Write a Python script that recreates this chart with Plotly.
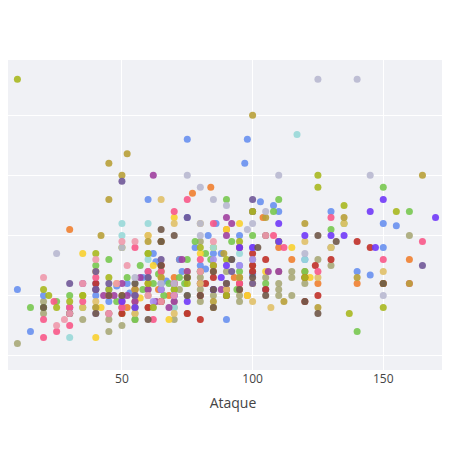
import plotly.graph_objects as go

# Ataque / Defensa por tipo
tipos = ["Normal", "Fire", "Water", "Grass", "Electric", "Ice", "Fighting", "Poison",
         "Ground", "Flying", "Psychic", "Bug", "Rock", "Ghost", "Dragon", "Dark", "Steel", "Fairy"]
colores = ["#A8A878", "#F08030", "#6890F0", "#78C850", "#F8D030", "#98D8D8", "#C03028", "#A040A0",
           "#E0C068", "#A890F0", "#F85888", "#A8B820", "#B8A038", "#705898", "#7038F8", "#705848",
           "#B8B8D0", "#EE99AC"]

ataque = {
    "Normal": [5, 10, 20, 20, 20, 30, 35, 40, 45, 50, 55, 55, 60, 60, 65, 70, 70, 70, 75, 75, 80, 80, 85, 85,
               90, 95, 95, 100, 100, 105, 110, 110, 110, 115, 115, 120, 125, 130, 60, 65, 75, 80, 90, 160,
               45, 50, 55, 60, 65, 70, 72, 80, 85, 90, 95, 100, 105, 110, 115, 120],
    "Fire": [30, 50, 55, 60, 65, 68, 72, 77, 84, 90, 95, 104, 110, 115, 120, 125, 130, 140, 160, 85, 80,
             52, 64, 70, 93, 98],
    "Water": [10, 15, 20, 40, 40, 45, 48, 52, 55, 60, 62, 65, 65, 70, 72, 75, 78, 80, 83, 85, 86, 90, 92,
              95, 97, 98, 103, 105, 108, 110, 120, 130, 140, 145, 150, 150, 155, 75, 95, 90, 60,
              45, 50, 53, 58, 63, 67, 73, 82, 88, 100],
    "Grass": [15, 20, 25, 30, 40, 40, 45, 45, 50, 55, 58, 60, 62, 65, 68, 70, 72, 75, 78, 80, 82, 85,
              90, 92, 95, 100, 100, 105, 108, 110, 120, 130, 135, 140, 150, 160, 181,
              35, 48, 52, 57, 64, 66, 74, 84, 94],
    "Electric": [35, 40, 40, 45, 48, 50, 55, 60, 62, 65, 70, 75, 80, 85, 90, 95, 98, 100, 105, 115, 122,
                 42, 57, 68],
    "Ice": [30, 50, 50, 60, 60, 62, 65, 70, 80, 85, 95, 117, 120, 130, 55, 75],
    "Fighting": [40, 50, 55, 60, 65, 70, 75, 80, 80, 82, 85, 90, 95, 100, 100, 105, 105, 110, 120, 120,
                 124, 125, 130, 140, 145, 150, 90, 95, 100, 65],
    "Poison": [30, 35, 40, 43, 45, 50, 52, 55, 60, 63, 65, 68, 70, 75, 80, 90, 90, 92, 100, 106, 110, 62,
               47, 57, 73, 88],
    "Ground": [35, 40, 55, 60, 65, 70, 75, 80, 85, 90, 95, 100, 107, 110, 120, 125, 130, 135, 150, 70, 80],
    "Flying": [30, 40, 50, 55, 62, 70, 80, 85, 90, 95, 100, 100, 65],
    "Psychic": [20, 20, 24, 25, 30, 35, 40, 45, 50, 55, 60, 62, 65, 70, 75, 80, 85, 95, 108, 112, 125,
                130, 150, 150, 160, 165, 30, 45, 50, 55, 65, 70, 85],
    "Bug": [10, 20, 22, 25, 30, 35, 40, 45, 50, 55, 60, 62, 65, 70, 75, 80, 85, 90, 95, 100, 110, 120,
            125, 135, 137, 150, 150, 155, 125, 181, 30, 35, 45, 60, 75, 90],
    "Rock": [40, 42, 45, 45, 50, 52, 55, 60, 65, 80, 89, 100, 105, 112, 120, 125, 135, 140, 160, 165, 182,
             85, 95],
    "Ghost": [30, 30, 40, 45, 50, 55, 65, 75, 85, 92, 100, 100, 165, 40, 60],
    "Dragon": [50, 55, 70, 75, 85, 88, 90, 95, 100, 110, 110, 120, 130, 135, 145, 147, 150, 170, 180],
    "Dark": [20, 40, 45, 50, 55, 60, 65, 65, 70, 75, 80, 85, 85, 90, 92, 100, 102, 105, 105, 120, 125,
             125, 132, 150, 65, 75, 85, 95],
    "Steel": [25, 50, 55, 65, 70, 75, 80, 80, 85, 90, 98, 100, 105, 110, 120, 125, 140, 145, 150, 80],
    "Fairy": [20, 25, 28, 30, 35, 40, 45, 50, 55, 60, 65, 70, 80, 85, 105, 48, 52],
}
defensa = {
    "Normal": [5, 10, 35, 40, 45, 35, 30, 40, 20, 25, 30, 35, 40, 50, 60, 30, 45, 60, 35, 50, 55, 65, 75,
               50, 60, 50, 65, 75, 80, 65, 70, 60, 50, 50, 70, 65, 80, 75, 55, 45, 65, 95, 70, 100,
               30, 45, 55, 65, 45, 40, 55, 45, 40, 60, 45, 70, 55, 55, 65, 60],
    "Fire": [105, 40, 45, 60, 75, 50, 80, 135, 140, 105, 55, 115, 90, 80, 70, 60, 90, 60, 80, 70, 60,
             40, 55, 65, 65, 50],
    "Water": [55, 20, 50, 50, 60, 55, 58, 60, 40, 130, 85, 60, 95, 50, 80, 180, 90, 75, 100, 85, 110,
              30, 80, 100, 160, 180, 128, 55, 125, 120, 80, 120, 70, 67, 90, 110, 108, 115, 75, 50, 70,
              45, 48, 52, 65, 78, 62, 70, 72, 85, 68],
    "Grass": [40, 40, 45, 50, 55, 75, 50, 80, 35, 30, 55, 85, 60, 70, 60, 55, 65, 80, 95, 70, 85, 90,
              130, 95, 70, 100, 120, 60, 120, 130, 70, 105, 110, 20, 140, 120, 130,
              40, 45, 65, 75, 68, 50, 60, 80, 55],
    "Electric": [85, 15, 70, 35, 60, 50, 55, 100, 75, 65, 115, 70, 85, 90, 105, 110, 50, 60, 70, 90, 65,
                 40, 48, 30],
    "Ice": [15, 100, 110, 110, 80, 40, 55, 40, 70, 90, 85, 184, 80, 90, 60, 50],
    "Fighting": [60, 35, 50, 40, 45, 60, 35, 30, 50, 60, 65, 55, 90, 85, 75, 80, 55, 95, 45, 65, 75, 50,
                 80, 95, 90, 60, 50, 60, 70, 75],
    "Poison": [40, 60, 55, 50, 35, 60, 50, 45, 55, 45, 55, 40, 45, 70, 60, 100, 115, 110, 120, 70, 70, 150,
               50, 65, 80, 55],
    "Ground": [40, 45, 35, 100, 130, 110, 65, 110, 40, 55, 65, 45, 40, 95, 95, 65, 90, 110, 70, 35, 60],
    "Flying": [40, 35, 40, 50, 45, 60, 70, 80, 60, 75, 80, 90, 55],
    "Psychic": [30, 15, 45, 20, 25, 45, 65, 50, 45, 55, 70, 30, 95, 120, 130, 80, 110, 60, 100, 90, 70,
                115, 60, 80, 60, 95, 40, 50, 40, 90, 70, 60, 75],
    "Bug": [230, 55, 50, 40, 45, 50, 85, 65, 90, 40, 60, 40, 95, 55, 60, 90, 75, 80, 95, 120, 95, 65,
            150, 125, 35, 40, 60, 120, 140, 131, 35, 50, 55, 85, 65, 50],
    "Rock": [40, 100, 160, 130, 150, 168, 55, 95, 65, 70, 85, 200, 115, 45, 110, 40, 115, 65, 60, 150, 160,
             45, 65],
    "Ghost": [35, 60, 55, 60, 145, 50, 80, 115, 55, 70, 60, 130, 75, 70, 65],
    "Dragon": [45, 40, 50, 45, 55, 65, 75, 90, 90, 110, 95, 100, 100, 100, 120, 90, 130, 115, 100],
    "Dark": [40, 35, 50, 50, 60, 30, 105, 95, 100, 50, 50, 55, 40, 60, 80, 65, 90, 50, 100, 45, 35, 100,
             95, 60, 75, 65, 70, 55],
    "Steel": [85, 90, 65, 60, 60, 150, 140, 100, 130, 125, 105, 110, 120, 150, 85, 230, 230, 150, 50, 110],
    "Fairy": [65, 25, 30, 35, 60, 80, 35, 95, 95, 50, 45, 50, 70, 95, 100, 60, 75],
}

fig = go.Figure()
for t, c in zip(tipos, colores):
    fig.add_trace(go.Scatter(x=ataque[t], y=defensa[t], mode="markers", name=t,
                             marker=dict(color=c, size=7, opacity=0.9)))

fig.update_layout(
    width=450, height=450,
    template="plotly_white",
    plot_bgcolor="#f0f1f5",
    showlegend=False,
    margin=dict(l=0, r=0, t=52, b=88),
    xaxis=dict(title=dict(text="Ataque", font=dict(size=14, color="#444"), standoff=12),
               range=[6.4, 178.6], tickvals=[50, 100, 150], gridcolor="white", zeroline=False,
               tickfont=dict(color="#444")),
    yaxis=dict(range=[-12, 246], dtick=50, showticklabels=False, gridcolor="white", zeroline=False),
)
fig.write_html("out.html")
